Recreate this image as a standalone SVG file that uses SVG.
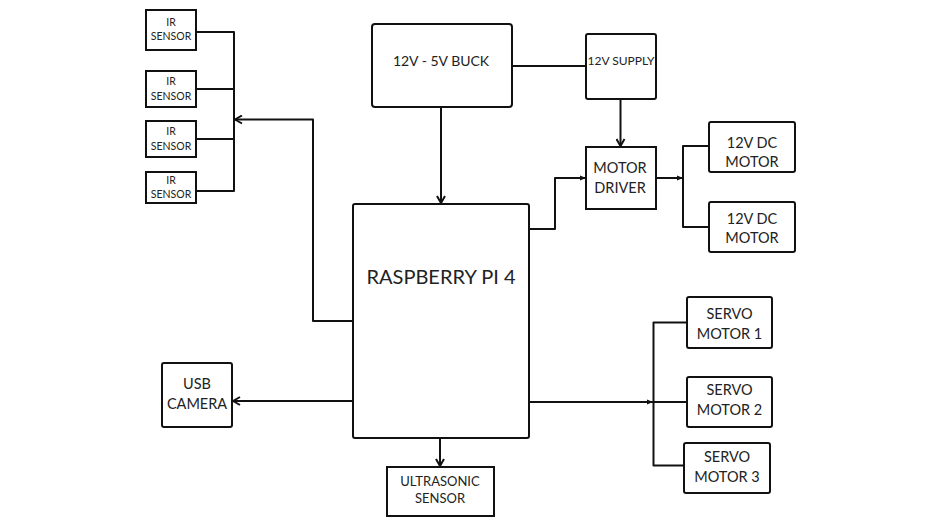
<svg xmlns="http://www.w3.org/2000/svg" width="938" height="528" viewBox="0 0 938 528">
<style>
.box{fill:#fff;stroke:#111;stroke-width:2}
.ln{fill:none;stroke:#111;stroke-width:2;stroke-linejoin:round}
.t{font-family:Lato,"Noto Sans",sans-serif;fill:#222;text-anchor:middle}
.s9{font-size:10.5px}
.s13{font-size:14px}
.s14{font-size:14.5px}
.s18{font-size:20px}
</style>
<defs>
<marker id="chev" viewBox="0 0 10 10" refX="9" refY="5" markerWidth="10" markerHeight="10" markerUnits="userSpaceOnUse" orient="auto">
<path d="M2,1 L9,5 L2,9" fill="none" stroke="#111" stroke-width="2"/>
</marker>
<marker id="tri" viewBox="0 0 10 10" refX="10" refY="5" markerWidth="6" markerHeight="6" markerUnits="userSpaceOnUse" orient="auto">
<path d="M0,1 L10,5 L0,9 Z" fill="#111"/>
</marker>
</defs>
<rect width="938" height="528" fill="#fff"/>
<g id="connectors">
<path class="ln" d="M196,32 H234 V191 H196"/>
<path class="ln" d="M196,89 H234"/>
<path class="ln" d="M196,139 H234"/>
<path class="ln" d="M353,321 H313 V119.5 H235" marker-end="url(#chev)"/>
<path class="ln" d="M441,107 V203" marker-end="url(#chev)"/>
<path class="ln" d="M512,66 H586"/>
<path class="ln" d="M620.5,99 V146" marker-end="url(#chev)"/>
<path class="ln" d="M529,229 H555 V178 H586" marker-end="url(#tri)"/>
<path class="ln" d="M656,178 H683" marker-end="url(#tri)"/>
<path class="ln" d="M709,146 H683 V227 H709"/>
<path class="ln" d="M353,401 H233" marker-end="url(#chev)"/>
<path class="ln" d="M440,438 V466" marker-end="url(#chev)"/>
<path class="ln" d="M529,402 H653" marker-end="url(#tri)"/>
<path class="ln" d="M687,322.5 H653.5 V465.5 H684"/>
<path class="ln" d="M653.5,402 H687"/>
</g>
<g id="ir1"><rect class="box" x="146" y="10" width="50" height="40"/><text class="t s9" x="171" y="26">IR</text><text class="t s9" x="171" y="40">SENSOR</text></g>
<g id="ir2"><rect class="box" x="146" y="71" width="50" height="36"/><text class="t s9" x="171" y="85">IR</text><text class="t s9" x="171" y="99.5">SENSOR</text></g>
<g id="ir3"><rect class="box" x="146" y="121" width="50" height="36"/><text class="t s9" x="171" y="135">IR</text><text class="t s9" x="171" y="149.5">SENSOR</text></g>
<g id="ir4"><rect class="box" x="146" y="172" width="50" height="31"/><text class="t s9" x="171" y="184">IR</text><text class="t s9" x="171" y="198">SENSOR</text></g>
<g id="buck"><rect class="box" x="372" y="24" width="140" height="83" rx="3"/><text class="t s13" x="441" y="65.5">12V - 5V BUCK</text></g>
<g id="supply"><rect class="box" x="586" y="34" width="70" height="65" rx="2"/><text class="t" style="font-size:11px" x="621" y="65" textLength="67" lengthAdjust="spacingAndGlyphs">12V SUPPLY</text></g>
<g id="driver"><rect class="box" x="586" y="147" width="70" height="62"/><text class="t s14" x="620" y="173">MOTOR</text><text class="t s14" x="620" y="192.5">DRIVER</text></g>
<g id="dc1"><rect class="box" x="709" y="122" width="86" height="50" rx="2"/><text class="t s14" x="752" y="148">12V DC</text><text class="t s14" x="752" y="167">MOTOR</text></g>
<g id="dc2"><rect class="box" x="709" y="202" width="86" height="50" rx="2"/><text class="t s14" x="752" y="224">12V DC</text><text class="t s14" x="752" y="243">MOTOR</text></g>
<g id="pi"><rect class="box" x="353" y="204" width="176" height="234" rx="2"/><text class="t s18" x="441" y="284">RASPBERRY PI 4</text></g>
<g id="servo1"><rect class="box" x="687" y="297" width="85" height="51" rx="2"/><text class="t s14" x="729.5" y="319">SERVO</text><text class="t s14" x="729.5" y="338.5">MOTOR 1</text></g>
<g id="servo2"><rect class="box" x="687" y="377" width="85" height="50" rx="2"/><text class="t s14" x="729.5" y="395">SERVO</text><text class="t s14" x="729.5" y="414.5">MOTOR 2</text></g>
<g id="servo3"><rect class="box" x="684" y="443" width="86" height="50" rx="2"/><text class="t s14" x="727" y="461.5">SERVO</text><text class="t s14" x="727" y="481.5">MOTOR 3</text></g>
<g id="usb"><rect class="box" x="162" y="363" width="70" height="64" rx="2"/><text class="t s14" x="197" y="389">USB</text><text class="t s14" x="197" y="408.5">CAMERA</text></g>
<g id="ultra"><rect class="box" x="387" y="467" width="107" height="49"/><text class="t" style="font-size:13px" x="440" y="485.5">ULTRASONIC</text><text class="t" style="font-size:13px" x="440" y="503">SENSOR</text></g>
</svg>
